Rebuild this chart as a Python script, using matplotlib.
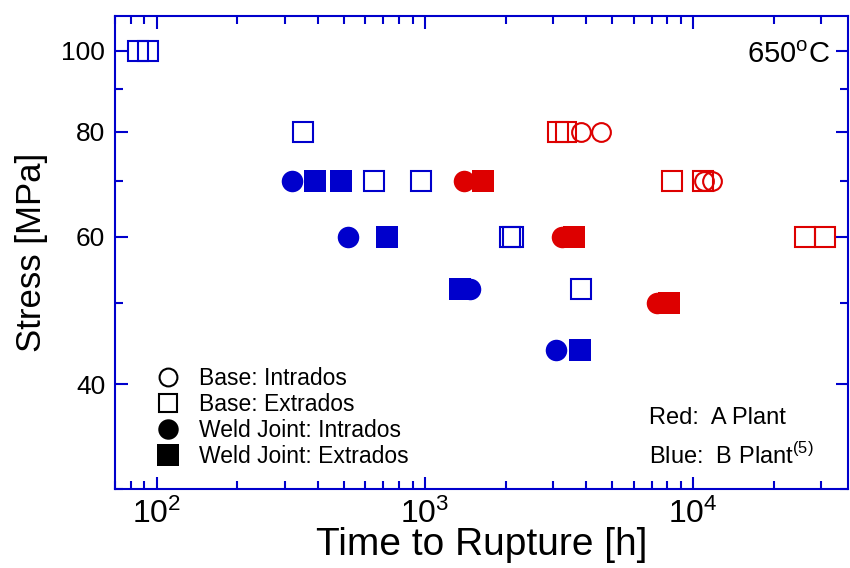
import matplotlib.pyplot as plt
from matplotlib.lines import Line2D
from matplotlib.ticker import FixedLocator, NullFormatter, LogLocator, LogFormatterSciNotation

plt.rcParams["font.family"] = ["Liberation Sans", "DejaVu Sans"]

# colours
RED = "#DD0000"
BLUE = "#0000CC"

# data: A plant (red)
a_base_intra_t = [3820, 4540, 10990, 11780]
a_base_intra_s = [80, 80, 70, 70]
a_base_extra_t = [3135, 3360, 8360, 10900, 26200, 31100]
a_base_extra_s = [80, 80, 70, 70, 60, 60]
a_weld_intra_t = [1398, 3236, 7340]
a_weld_intra_s = [70, 60, 50]
a_weld_extra_t = [1643, 3597, 8130]
a_weld_extra_s = [70, 60, 50]

# data: B plant (blue)
b_base_extra_t = [85, 93, 351, 646, 966, 2075, 2130, 3820]
b_base_extra_s = [100, 100, 80, 70, 70, 60, 60, 52]
b_weld_intra_t = [321, 516, 1479, 3090]
b_weld_intra_s = [70, 60, 52, 44]
b_weld_extra_t = [389, 489, 721, 1358, 3790]
b_weld_extra_s = [70, 70, 60, 52, 44]

y_major = [40, 60, 80, 100]
y_minor = [30, 50, 70, 90]

legend_labels = ["Base: Intrados", "Base: Extrados",
                 "Weld Joint: Intrados", "Weld Joint: Extrados"]


fig = plt.figure(figsize=(8.5, 5.68), dpi=100)
ax = fig.add_axes([115 / 850, 1 - 489 / 568, 733 / 850, 473 / 568])

open_sq = dict(marker="s", ms=14, mfc="none", mew=1.5, ls="none")
open_ci = dict(marker="o", ms=13.5, mfc="none", mew=1.5, ls="none")
fill_sq = dict(marker="s", ms=16.5, mew=0, ls="none")
fill_ci = dict(marker="o", ms=15.5, mew=0, ls="none")

ax.plot(b_base_extra_t, b_base_extra_s, mec=BLUE, **open_sq)
ax.plot(b_weld_intra_t, b_weld_intra_s, color=BLUE, **fill_ci)
ax.plot(b_weld_extra_t, b_weld_extra_s, color=BLUE, **fill_sq)

ax.plot(a_base_extra_t, a_base_extra_s, mec=RED, **open_sq)
ax.plot(a_base_intra_t, a_base_intra_s, mec=RED, **open_ci)
ax.plot(a_weld_intra_t, a_weld_intra_s, color=RED, **fill_ci)
ax.plot(a_weld_extra_t, a_weld_extra_s, color=RED, **fill_sq)

ax.set_xscale("log")
ax.set_yscale("log")
ax.set_xlim(70, 37800)
ax.set_ylim(30, 110)

ax.xaxis.set_major_locator(LogLocator(base=10))
ax.xaxis.set_major_formatter(LogFormatterSciNotation())
ax.xaxis.set_minor_locator(LogLocator(base=10, subs=range(2, 10)))
ax.xaxis.set_minor_formatter(NullFormatter())
ax.yaxis.set_major_locator(FixedLocator(y_major))
ax.yaxis.set_minor_locator(FixedLocator(y_minor))
ax.yaxis.set_major_formatter(plt.FixedFormatter([str(v) for v in y_major]))
ax.yaxis.set_minor_formatter(NullFormatter())

for side in ax.spines.values():
    side.set_color(BLUE)
    side.set_linewidth(1.5)
ax.tick_params(which="both", direction="in", top=True, right=True, color=BLUE, width=1.5)
ax.tick_params(which="major", length=9)
ax.tick_params(which="minor", length=5.5)
ax.tick_params(axis="y", labelsize=19, pad=7)
ax.tick_params(axis="x", labelsize=23, pad=7)

ax.set_xlabel("Time to Rupture [h]", fontsize=28, labelpad=-2)
ax.set_ylabel("Stress [MPa]", fontsize=25, labelpad=10)

ax.text(0.975, 0.918, r"650$^{\mathdefault{o}}$C", transform=ax.transAxes,
        ha="right", va="center", fontsize=21)
ax.text(0.728, 0.15, "Red:  A Plant", transform=ax.transAxes,
        ha="left", va="center", fontsize=17)
ax.text(0.728, 0.07, r"Blue:  B Plant$^{\mathdefault{(5)}}$", transform=ax.transAxes,
        ha="left", va="center", fontsize=17)

handles = [
    Line2D([], [], color="black", **open_ci),
    Line2D([], [], color="black", **open_sq),
    Line2D([], [], color="black", **fill_ci),
    Line2D([], [], color="black", **fill_sq),
]
for h in handles:
    h.set_markersize(h.get_markersize() * 0.95)
ax.legend(handles, legend_labels, loc="lower left", bbox_to_anchor=(0.035, 0.01),
          frameon=False, fontsize=16.5, handlelength=1.0, handletextpad=0.85,
          labelspacing=0.14, borderpad=0.2)

plt.savefig("out.png")
